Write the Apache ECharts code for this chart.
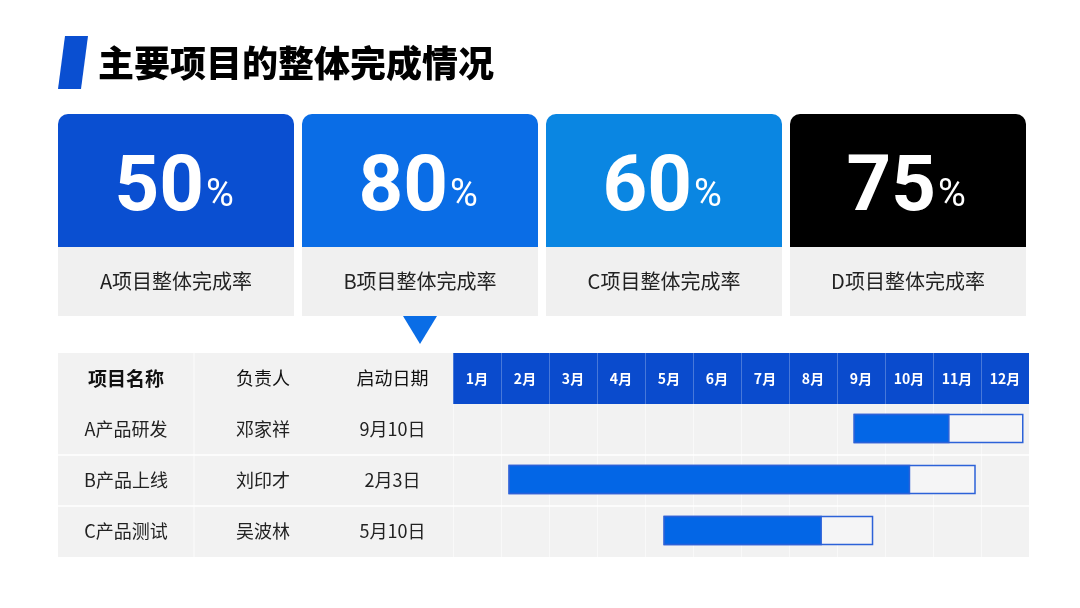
<!DOCTYPE html>
<html>
<head>
<meta charset="utf-8">
<script src="https://cdn.jsdelivr.net/npm/echarts@6/dist/echarts.min.js"></script>
<style>
html,body{margin:0;padding:0;background:#fff;}
#chart{width:1080px;height:608px;}
</style>
</head>
<body>
<div id="chart"></div>
<script>
// ---- data ----
const titleText = '主要项目的整体完成情况';
const kpiLabels = ['A项目整体完成率', 'B项目整体完成率', 'C项目整体完成率', 'D项目整体完成率'];
const kpiValues = [50, 80, 60, 75];
const tableHeaders = ['项目名称', '负责人', '启动日期'];
const months = ['1月','2月','3月','4月','5月','6月','7月','8月','9月','10月','11月','12月'];
const projects = ['A产品研发', 'B产品上线', 'C产品测试'];
const owners = ['邓家祥', '刘印才', '吴波林'];
const startDates = ['9月10日', '2月3日', '5月10日'];
// gantt values in months from Jan 1 (0..12)
const barStart = [8.36, 1.17, 4.40];
const barDone  = [10.33, 9.51, 7.67];
const barEnd   = [11.87, 10.875, 8.74];

// ---- layout / style ----
const CJK = 'Noto Sans CJK SC';
const kpiColors = ['#0a4fd1', '#0a6de6', '#0a86e2', '#000000'];
const cardX0 = 58, cardY = 114, cardW = 236, cardGap = 8, cardTopH = 133, cardBotH = 69;
const tblLeft = 58, tblTop = 353, headH = 51, rowH = 51, ganttLeft = 453, ganttRight = 1029;
const colW = [136, 138, 121];
const headerBlue = '#0a4bcd';
const cellGrey = '#f2f2f2';

const graphics = [];
// title
graphics.push({
  type: 'polygon', shape: { points: [[65, 36], [88, 36], [81, 89], [58, 89]] },
  style: { fill: '#0a4fd1' }
});
graphics.push({
  type: 'text', x: 98, y: 63,
  style: { text: titleText, font: '900 36px "' + CJK + '"', fill: '#000', verticalAlign: 'middle', align: 'left' }
});
// cards
kpiValues.forEach((v, i) => {
  const x = cardX0 + i * (cardW + cardGap);
  graphics.push({
    type: 'rect', shape: { x: x, y: cardY, width: cardW, height: cardTopH, r: [10, 10, 0, 0] },
    style: { fill: kpiColors[i] }
  });
  graphics.push({
    type: 'rect', shape: { x: x, y: cardY + cardTopH, width: cardW, height: cardBotH },
    style: { fill: '#f0f0f0' }
  });
  graphics.push({
    type: 'text', x: x + 146, y: 190,
    style: { text: String(v), font: 'bold 78px Roboto', fill: '#fff', align: 'right', verticalAlign: 'middle' }
  });
  graphics.push({
    type: 'text', x: x + 148, y: 196,
    style: { text: '%', font: 'normal 38px Roboto', fill: '#fff', align: 'left', verticalAlign: 'middle' }
  });
  graphics.push({
    type: 'text', x: x + cardW / 2, y: 281,
    style: { text: kpiLabels[i], font: 'normal 20px "' + CJK + '"', fill: '#222', align: 'center', verticalAlign: 'middle' }
  });
});
// pointer triangle under card B
graphics.push({
  type: 'polygon', shape: { points: [[403, 316], [437, 316], [420, 344]] },
  style: { fill: '#0a6de6' }
});
// table backgrounds
const tblH = headH + rowH * projects.length;
graphics.push({
  type: 'rect', z: -10, shape: { x: tblLeft, y: tblTop, width: ganttLeft - tblLeft, height: tblH },
  style: { fill: cellGrey }
});
graphics.push({
  type: 'rect', z: -10, shape: { x: ganttLeft, y: tblTop, width: ganttRight - ganttLeft, height: headH },
  style: { fill: headerBlue }
});
// column separator
graphics.push({
  type: 'line', shape: { x1: tblLeft + colW[0], y1: tblTop, x2: tblLeft + colW[0], y2: tblTop + tblH },
  style: { stroke: 'rgba(255,255,255,0.8)', lineWidth: 1 }
});
// table headers
let cx = tblLeft;
tableHeaders.forEach((h, i) => {
  graphics.push({
    type: 'text', x: cx + colW[i] / 2, y: tblTop + headH / 2,
    style: {
      text: h, font: (i === 0 ? 'bold 19px "' : 'normal 18px "') + CJK + '"',
      fill: '#111', align: 'center', verticalAlign: 'middle'
    }
  });
  cx += colW[i];
});

const cellStyle = { fontSize: 18, color: '#222', fontFamily: CJK, align: 'center' };

const option = {
  backgroundColor: '#ffffff',
  animation: false,
  graphic: { elements: graphics },
  grid: [
    { left: ganttLeft, right: 1080 - ganttRight, top: tblTop + headH, bottom: 608 - (tblTop + tblH),
      show: true, backgroundColor: cellGrey, borderWidth: 0 },
    { left: tblLeft, right: 1080 - ganttLeft, top: tblTop + headH, bottom: 608 - (tblTop + tblH), show: false }
  ],
  xAxis: [
    { type: 'value', gridIndex: 0, min: 0, max: 12, interval: 1,
      axisLabel: { show: false }, axisLine: { show: false }, axisTick: { show: false },
      splitLine: { show: true, lineStyle: { color: 'rgba(255,255,255,0.55)', width: 1 } } },
    { type: 'category', gridIndex: 0, position: 'top', data: months,
      axisLine: { show: false },
      axisTick: { show: true, length: headH, lineStyle: { color: 'rgba(255,255,255,0.25)', width: 1 } },
      axisLabel: { color: '#ffffff', fontSize: 14, fontWeight: 'bold', fontFamily: CJK,
        margin: headH / 2, verticalAlign: 'middle' },
      splitLine: { show: false } },
    { type: 'value', gridIndex: 1, show: false, min: 0, max: 1 }
  ],
  yAxis: [
    { type: 'category', gridIndex: 0, inverse: true, data: projects,
      axisLine: { show: false }, axisTick: { show: false },
      splitLine: { show: true, showMinLine: false, showMaxLine: false, lineStyle: { color: '#ffffff', width: 1.5 } },
      axisLabel: {
        margin: 0,
        formatter: function (val, idx) {
          return '{a|' + projects[idx] + '}{b|' + owners[idx] + '}{c|' + startDates[idx] + '}';
        },
        rich: {
          a: Object.assign({ width: colW[0] }, cellStyle),
          b: Object.assign({ width: colW[1] }, cellStyle),
          c: Object.assign({ width: colW[2] }, cellStyle)
        }
      } },
    { type: 'category', gridIndex: 1, inverse: true, data: projects,
      axisLine: { show: false }, axisTick: { show: false }, axisLabel: { show: false },
      splitLine: { show: true, showMinLine: false, showMaxLine: false, lineStyle: { color: '#ffffff', width: 1.5 } } }
  ],
  series: [{
    type: 'custom',
    xAxisIndex: 0, yAxisIndex: 0,
    encode: { x: [1, 2, 3], y: 0 },
    data: projects.map((p, i) => [i, barStart[i], barDone[i], barEnd[i]]),
    renderItem: function (params, api) {
      const row = api.value(0);
      const s = api.coord([api.value(1), row]);
      const d = api.coord([api.value(2), row]);
      const e = api.coord([api.value(3), row]);
      const h = 28;
      return {
        type: 'group',
        children: [
          { type: 'rect', shape: { x: s[0], y: s[1] - h / 2 - 1, width: e[0] - s[0], height: h },
            style: { fill: '#f5f5f6', stroke: '#2c62d8', lineWidth: 1.5 } },
          { type: 'rect', shape: { x: s[0], y: s[1] - h / 2 - 1, width: d[0] - s[0], height: h },
            style: { fill: '#0366e6', stroke: '#2c62d8', lineWidth: 1.5 } }
        ]
      };
    }
  }]
};

const chart = echarts.init(document.getElementById('chart'));
chart.setOption(option);
</script>
</body>
</html>
